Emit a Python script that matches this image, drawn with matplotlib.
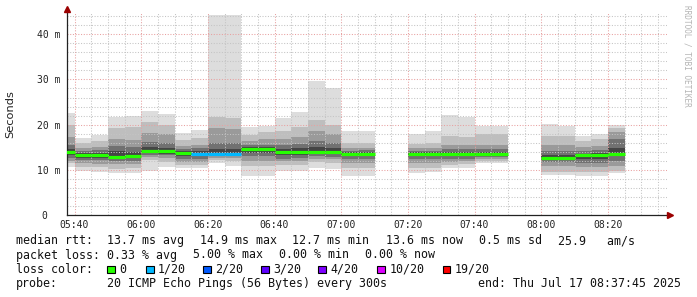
import matplotlib
matplotlib.use("Agg")
import matplotlib.pyplot as plt
from matplotlib.patches import Rectangle

# ---------------- data ----------------
bar_start = ["05:35", "05:40", "05:45", "05:50", "05:55", "06:00", "06:05", "06:10",
             "06:15", "06:20", "06:25", "06:30", "06:35", "06:40", "06:45", "06:50",
             "06:55", "07:00", "07:05", "07:20", "07:25", "07:30", "07:35", "07:40",
             "07:45", "08:00", "08:05", "08:10", "08:15", "08:20"]

# median rtt (ms)
median_ms = [13.9, 13.2, 13.2, 12.8, 13.0, 14.1, 14.1, 13.8, 13.6, 13.4, 13.6, 14.7,
             14.5, 14.0, 14.0, 14.0, 14.0, 13.5, 13.5, 13.6, 13.6, 13.4, 13.4, 13.6,
             13.6, 12.7, 12.7, 13.2, 13.3, 13.6]

# lost pings out of 20
loss_count = [0, 0, 0, 0, 0, 0, 0, 0, 1, 1, 1, 0, 0, 0, 0, 0, 0, 0, 0, 0, 0, 0, 0, 0,
              0, 0, 0, 0, 0, 0]

# smoke: low edges (outer -> inner) and high edges (outer -> inner), ms
smoke_lo = [
    [10.7, 11.4, 12.0, 12.6, 13.2],
    [9.7, 10.7, 11.4, 12.2, 12.7],
    [9.6, 10.6, 11.3, 12.1, 12.7],
    [9.2, 10.2, 11.2, 11.9, 12.4],
    [9.2, 10.3, 11.3, 12.0, 12.6],
    [9.8, 12.2, 12.8, 13.3, 13.7],
    [10.7, 11.8, 12.6, 13.2, 13.6],
    [10.3, 11.0, 11.8, 12.5, 13.1],
    [10.3, 11.0, 11.8, 12.5, 13.1],
    [11.4, 12.2, 12.7, 13.0, 13.2],
    [10.9, 12.0, 12.6, 13.0, 13.3],
    [8.7, 10.9, 12.0, 13.0, 13.8],
    [8.7, 10.9, 12.0, 13.0, 13.8],
    [9.7, 11.0, 11.9, 12.5, 13.2],
    [9.7, 11.0, 11.9, 12.6, 13.3],
    [10.5, 11.7, 12.4, 13.0, 13.5],
    [10.2, 11.5, 12.3, 12.9, 13.4],
    [8.6, 10.5, 11.5, 12.3, 13.0],
    [8.6, 10.5, 11.5, 12.3, 13.0],
    [9.4, 10.5, 11.5, 12.3, 13.0],
    [9.5, 10.5, 11.5, 12.3, 13.0],
    [10.3, 11.0, 11.8, 12.5, 13.0],
    [10.5, 11.2, 11.9, 12.5, 13.0],
    [11.4, 12.0, 12.5, 12.9, 13.3],
    [11.4, 12.0, 12.5, 12.9, 13.3],
    [8.85, 9.6, 10.8, 11.8, 12.3],
    [8.85, 9.6, 10.8, 11.8, 12.3],
    [8.6, 9.6, 10.6, 11.6, 12.5],
    [8.6, 9.6, 10.6, 11.6, 12.5],
    [9.2, 9.8, 10.8, 12.0, 13.0],
]
smoke_hi = [
    [22.5, 19.9, 17.3, 15.5, 14.5],
    [17.1, 15.9, 14.8, 14.2, 13.7],
    [17.7, 16.4, 15.0, 14.3, 13.8],
    [21.7, 19.2, 16.8, 15.3, 14.2],
    [21.9, 19.5, 16.5, 15.0, 14.0],
    [23.0, 20.5, 18.2, 16.2, 15.0],
    [22.3, 20.0, 18.0, 16.0, 14.9],
    [18.2, 16.5, 15.3, 14.6, 14.2],
    [18.7, 17.0, 15.6, 14.8, 14.2],
    [44.2, 21.7, 19.3, 16.0, 14.5],
    [44.2, 21.4, 19.0, 16.0, 14.6],
    [19.4, 17.8, 16.3, 15.5, 15.0],
    [19.8, 18.3, 16.8, 15.6, 15.0],
    [21.5, 18.5, 16.8, 15.5, 14.6],
    [22.9, 19.5, 17.2, 15.8, 14.8],
    [29.6, 21.0, 18.5, 16.3, 15.0],
    [28.0, 20.0, 18.0, 16.0, 14.8],
    [18.6, 16.0, 14.8, 14.2, 13.9],
    [18.6, 16.0, 14.9, 14.3, 13.9],
    [17.9, 15.8, 14.8, 14.2, 13.9],
    [18.6, 16.0, 14.8, 14.2, 13.9],
    [22.1, 17.5, 15.5, 14.6, 14.0],
    [21.7, 17.3, 15.5, 14.6, 14.0],
    [19.8, 18.0, 15.5, 14.5, 14.0],
    [19.8, 18.0, 15.5, 14.5, 14.0],
    [20.1, 17.5, 15.5, 14.2, 13.3],
    [19.7, 17.5, 15.5, 14.2, 13.3],
    [17.5, 16.3, 15.0, 14.2, 13.6],
    [17.9, 16.8, 15.2, 14.3, 13.7],
    [19.9, 19.3, 18.4, 16.8, 14.8],
]

x_ticks = ["05:40", "06:00", "06:20", "06:40", "07:00", "07:20", "07:40", "08:00", "08:20"]
y_ticks = [0, 10, 20, 30, 40]
y_tick_labels = ["0  ", "10 m", "20 m", "30 m", "40 m"]

loss_levels = ["0", "1/20", "2/20", "3/20", "4/20", "10/20", "19/20"]
loss_level_colors = ["#26ff00", "#00b8ff", "#0059ff", "#5e00ff", "#7e00ff", "#dd00ff", "#ff0000"]
loss_color_by_count = {0: "#26ff00", 1: "#00b8ff", 2: "#0059ff", 3: "#5e00ff",
                       4: "#7e00ff", 10: "#dd00ff", 19: "#ff0000"}

smoke_colors = ["#dddddd", "#bebebe", "#9a9a9a", "#717171", "#454545"]

start_label = "05:37:45"
span_min = 180
step_min = 5


def to_min(s):
    p = [int(v) for v in s.split(":")]
    m = p[0] * 60 + p[1]
    if len(p) > 2:
        m += p[2] / 60.0
    return m


W, H = 697, 297
fig = plt.figure(figsize=(W / 100, H / 100), dpi=100)
left_px, right_px, bottom_px, top_px = 67, 667, 215, 13
ax = fig.add_axes([left_px / W, 1 - bottom_px / H, (right_px - left_px) / W,
                   (bottom_px - top_px) / H])

x0 = to_min(start_label)
ax.set_xlim(x0, x0 + span_min)
ax.set_ylim(0, 44.7)

# smoke
for i, t in enumerate(bar_start):
    ts = to_min(t)
    for k in range(len(smoke_colors)):
        lo = smoke_lo[i][k]
        hi = smoke_hi[i][k]
        ax.bar(ts, hi - lo, bottom=lo, width=step_min, align="edge",
               color=smoke_colors[k], linewidth=0, zorder=1)

# grid
mono = "DejaVu Sans Mono"
minor_x = [to_min("05:40") + step_min * j for j in range(36)]
for xv in minor_x:
    if x0 <= xv <= x0 + span_min:
        major = (int(round(xv)) % 20 == 0)
        ax.axvline(xv, color="#e8a0a0" if major else "#c4c4c4",
                   lw=0.75, ls=(0, (1, 1.6)), zorder=2)
for yv in range(0, 46, 2):
    if yv == 0:
        continue
    major = yv % 10 == 0
    ax.axhline(yv, color="#e8a0a0" if major else "#c4c4c4",
               lw=0.75, ls=(0, (1, 1.6)), zorder=2)

# medians
for i, t in enumerate(bar_start):
    ts = to_min(t)
    ax.hlines(median_ms[i], ts, ts + step_min,
              color=loss_color_by_count[loss_count[i]], lw=2.3, zorder=3)

# axes styling
for s in ["top", "right"]:
    ax.spines[s].set_visible(False)
for s in ["left", "bottom"]:
    ax.spines[s].set_color("#222222")
    ax.spines[s].set_linewidth(0.9)
ax.set_xticks([to_min(t) for t in x_ticks])
ax.set_xticklabels(x_ticks, fontfamily=mono, fontsize=7)
ax.set_yticks(y_ticks)
ax.set_yticklabels(y_tick_labels, fontfamily=mono, fontsize=7)
ax.tick_params(axis="both", length=0, colors="#222222")
ax.tick_params(axis="x", pad=3.8)
ax.tick_params(axis="y", pad=5)
ax.plot([0], [1.02], marker="^", color="#9b0000", ms=4, transform=ax.transAxes,
        clip_on=False, zorder=5)
ax.plot([1.005], [0], marker=">", color="#9b0000", ms=4, transform=ax.transAxes,
        clip_on=False, zorder=5)

fig.text(10.5 / W, 1 - 114 / H, "Seconds", rotation=90, ha="center", va="center",
         fontsize=8.2, family="DejaVu Sans", color="#222222")
fig.text(687 / W, 1 - 5 / H, "RRDTOOL / TOBI OETIKER", rotation=270, ha="center",
         va="top", fontsize=5.6, family=mono, color="#b4b4b4")

# legend / stats text
fs = 8.35
tc = "#111111"


def put(xp, yp, s):
    fig.text(xp / W, 1 - yp / H, s, ha="left", va="baseline", fontsize=fs,
             family=mono, color=tc)


b1, b2, b3, b4 = 244.3, 258.5, 272.6, 286.7
put(16, b1, "median rtt:  13.7 ms avg")
put(199.7, b1, "14.9 ms max")
put(292.4, b1, "12.7 ms min")
put(386.0, b1, "13.6 ms now")
put(479.0, b1, "0.5 ms sd")
put(557.5, b1, "25.9   am/s")

put(16, b2, "packet loss: 0.33 % avg")
put(192.7, b2, "5.00 % max")
put(279.0, b2, "0.00 % min")
put(364.6, b2, "0.00 % now")

put(16, b3, "loss color:")
box_x = [107.3, 146.0, 203.3, 261.0, 318.3, 377.3, 442.7]
for bx, lab, col in zip(box_x, loss_levels, loss_level_colors):
    fig.add_artist(Rectangle((bx / W, 1 - 273.3 / H), 7.7 / W, 7.7 / H,
                             transform=fig.transFigure, facecolor=col,
                             edgecolor="#000000", linewidth=0.8))
    put(bx + 12.0, b3, lab)

put(16, b4, "probe:")
put(107.3, b4, "20 ICMP Echo Pings (56 Bytes) every 300s")
put(478.3, b4, "end: Thu Jul 17 08:37:45 2025")

fig.savefig("out.png", dpi=100, facecolor="white")
